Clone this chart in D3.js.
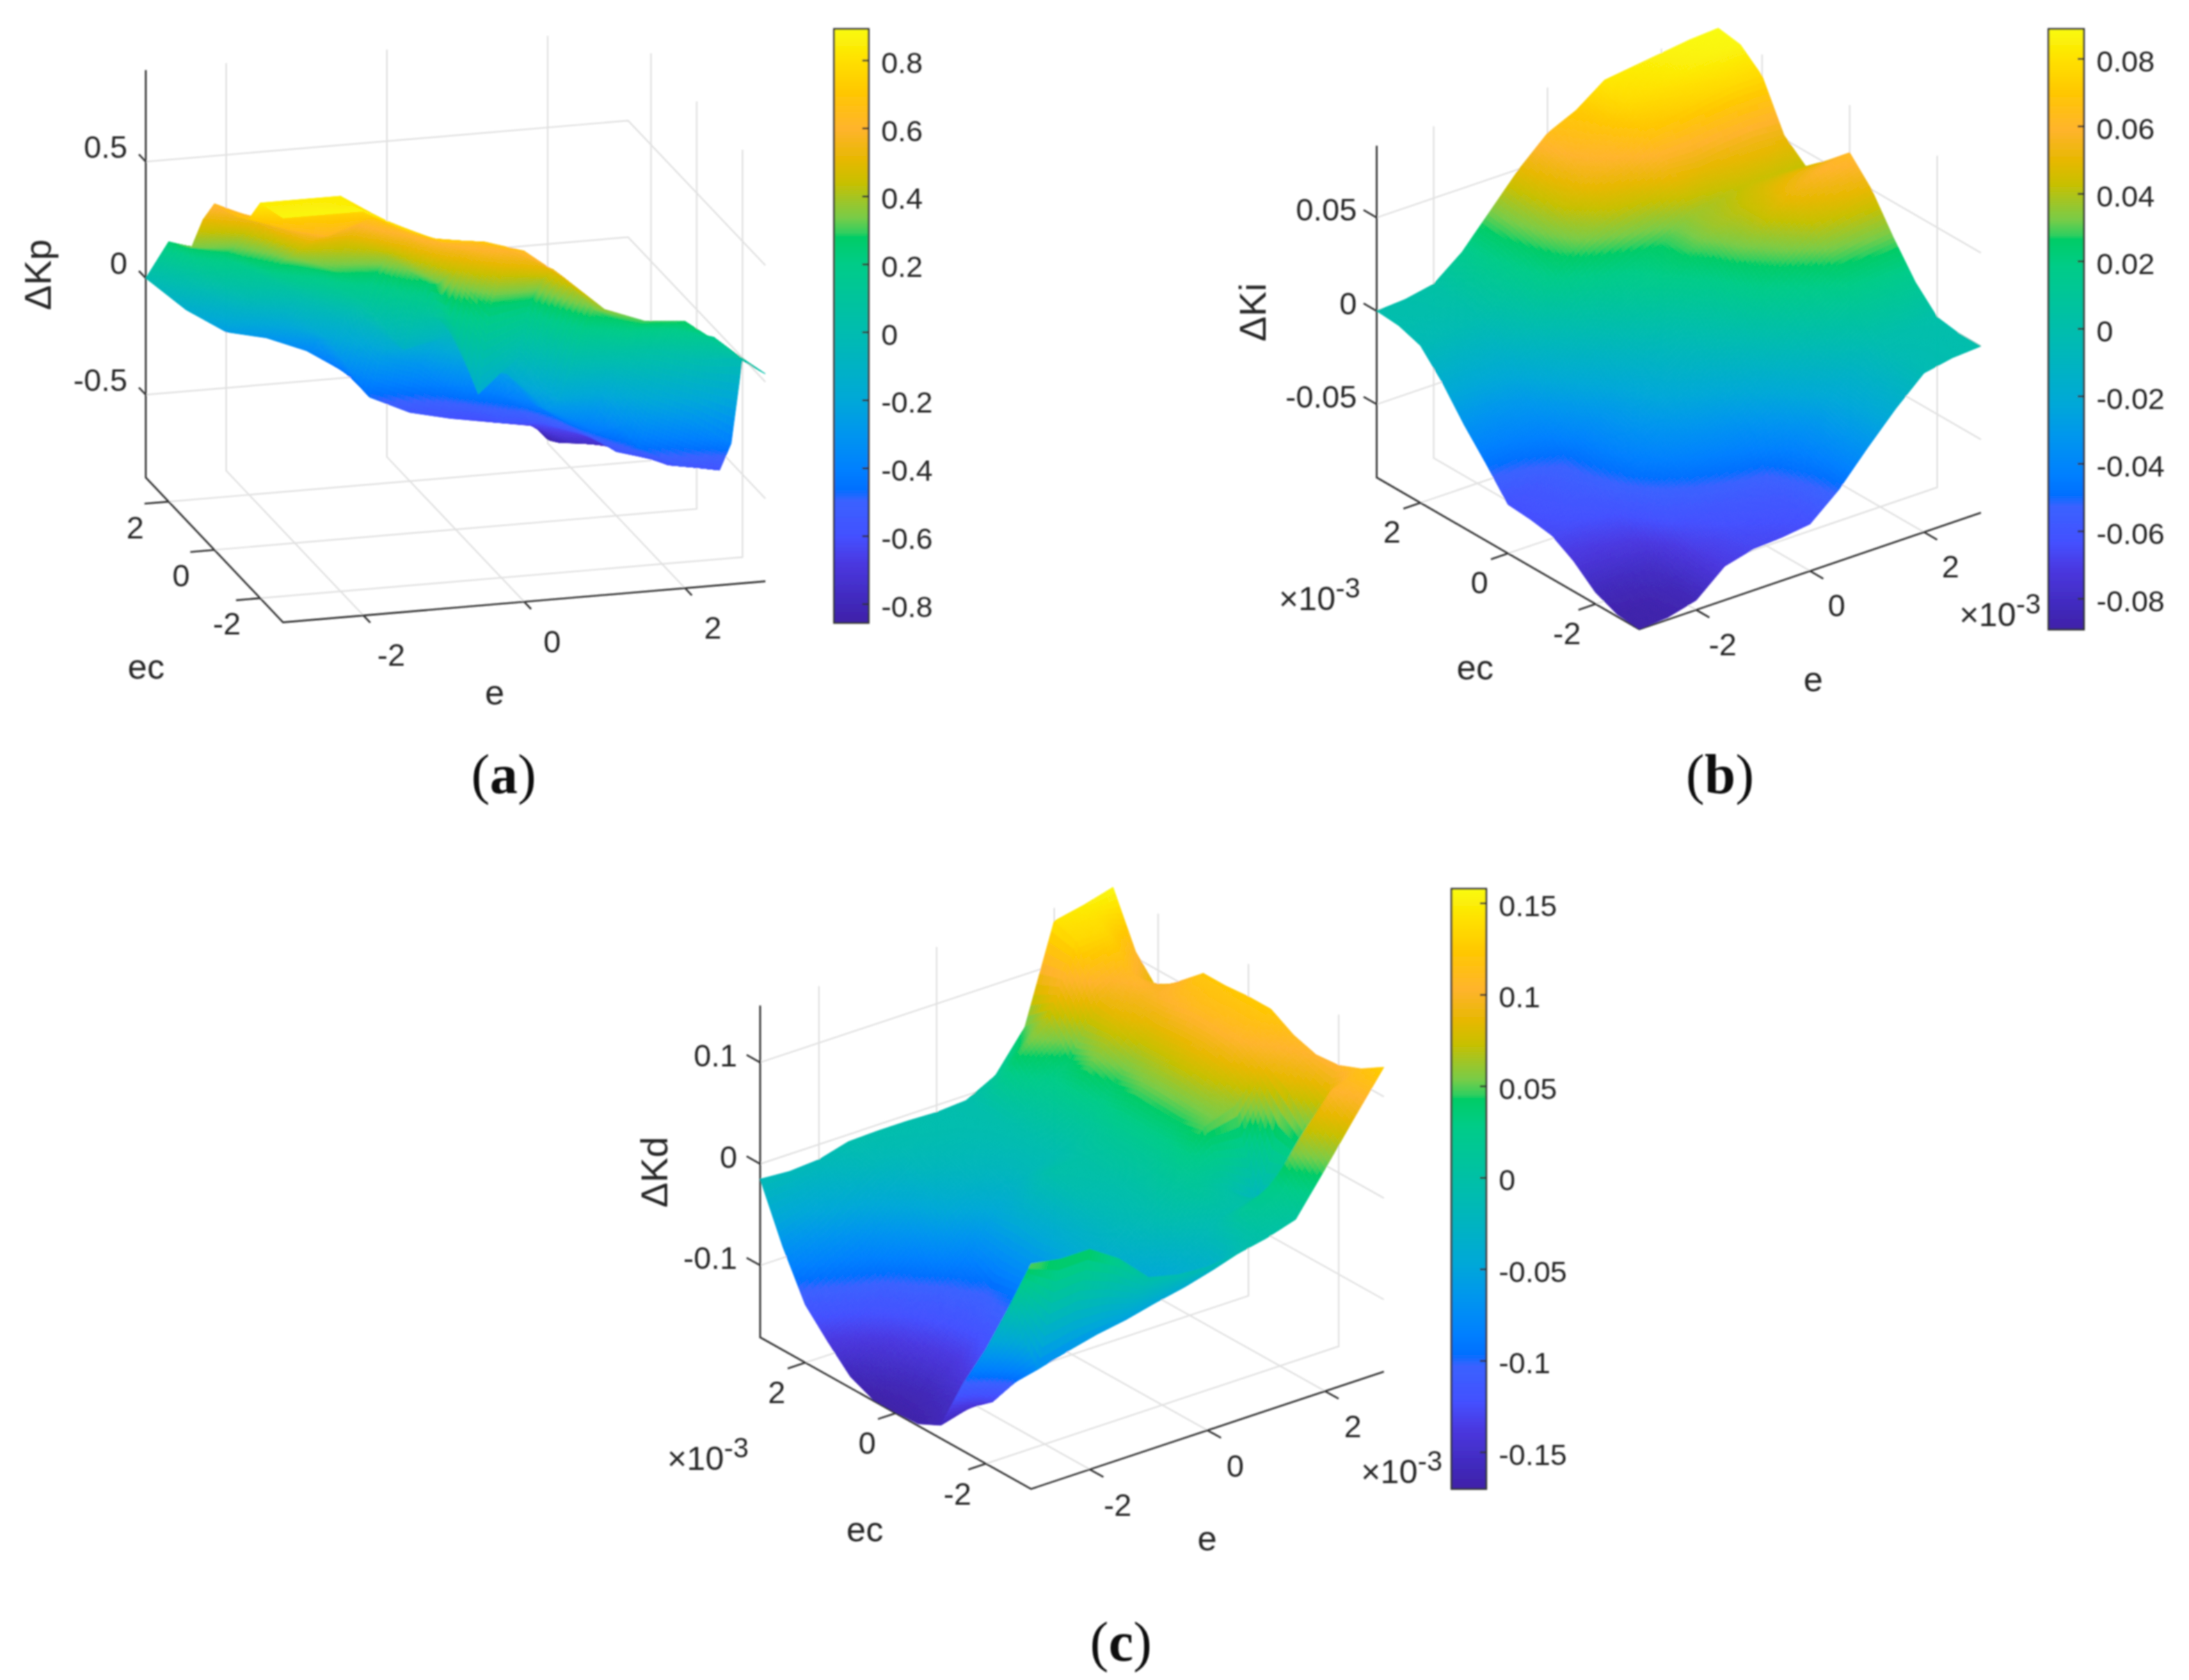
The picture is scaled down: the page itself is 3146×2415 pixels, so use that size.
<!DOCTYPE html>
<html>
<head>
<meta charset="utf-8">
<script src="https://cdnjs.cloudflare.com/ajax/libs/d3/7.8.5/d3.min.js"></script>
<style>
body { margin: 0; background: #fff; }
</style>
</head>
<body>
<script>
var width = 3146;
var height = 2415;

// grid of the three surfaces, rows run along ec, columns along e
var eValues = [-3, -2.5, -2, -1.5, -1, -0.5, 0, 0.5, 1, 1.5, 2, 2.5, 3];
var ecValues = [3, 2.5, 2, 1.5, 1, 0.5, 0, -0.5, -1, -1.5, -2, -2.5, -3];

var kpValues = [
  [0, -.15, -.26, -.30, -.37, -.48, -.55, -.57, -.58, -.65, -.84, -.84, -.80],
  [.13, 0, -.12, -.18, -.27, -.48, -.57, -.60, -.62, -.68, -.80, -.82, -.80],
  [.26, .10, -.01, -.07, -.22, -.48, -.56, -.60, -.63, -.66, -.74, -.78, -.80],
  [.30, .24, .14, .04, -.08, -.25, -.30, -.46, -.58, -.60, -.66, -.74, -.78],
  [.34, .32, .20, .12, .02, -.14, -.16, -.30, -.44, -.56, -.62, -.70, -.75],
  [.51, .44, .30, .23, .10, -.12, -.08, -.16, -.36, -.50, -.60, -.67, -.71],
  [.63, .55, .38, .30, .28, .08, .04, -.10, -.35, -.46, -.58, -.63, -.67],
  [.65, .60, .48, .48, .40, .27, -.10, -.15, -.32, -.40, -.52, -.60, -.63],
  [.68, .63, .56, .60, .48, .32, -.17, -.02, -.225, -.25, -.46, -.55, -.585],
  [.72, .66, .62, .68, .58, .42, .25, .27, -.044, -.08, -.22, -.30, -.42],
  [.84, .84, .84, .73, .64, .56, .44, .41, .158, .089, .064, .007, 0],
  [.86, .86, .85, .76, .68, .652, .594, .504, .317, .228, .206, .155, .01],
  [.88, .88, .88, .787, .719, .704, .65, .519, .37, .305, .29, .164, .035]
];

var kiValues = [
  [0, .001, .004, .016, .033, .050, .064, .071, .082, .084, .086, .088, .089],
  [-.001, 0, .003, .015, .031, .046, .059, .067, .078, .081, .084, .086, .087],
  [-.005, -.004, -.001, .011, .027, .042, .053, .059, .069, .072, .075, .077, .077],
  [-.018, -.018, -.014, .003, .022, .033, .041, .045, .052, .050, .052, .053, .052],
  [-.034, -.034, -.029, -.012, .003, .015, .022, .028, .037, .040, .043, .043, .042],
  [-.048, -.046, -.041, -.026, -.012, .002, .014, .026, .037, .042, .048, .051, .052],
  [-.063, -.059, -.052, -.037, -.023, -.011, 0, .013, .030, .042, .053, .059, .063],
  [-.064, -.061, -.055, -.041, -.029, -.019, -.010, .002, .019, .031, .042, .047, .050],
  [-.066, -.064, -.060, -.047, -.038, -.031, -.024, -.012, .003, .015, .026, .029, .031],
  [-.073, -.072, -.069, -.056, -.049, -.044, -.039, -.028, -.013, 0, .010, .013, .014],
  [-.083, -.082, -.079, -.066, -.061, -.057, -.054, -.042, -.026, -.013, -.001, .001, .002],
  [-.088, -.087, -.083, -.070, -.065, -.063, -.060, -.048, -.031, -.017, -.004, -.001, 0],
  [-.089, -.088, -.084, -.071, -.067, -.066, -.064, -.051, -.034, -.018, -.004, -.001, 0]
];

var kdValues = [
  [-.015, -.017, -.015, -.007, -.006, -.006, -.007, -.005, .010, .048, .143, .149, .157],
  [-.069, -.055, -.035, -.018, -.012, -.009, -.008, -.005, .045, .070, .135, .135, .106],
  [-.114, -.095, -.080, -.050, -.022, -.016, -.012, -.005, .020, .040, .090, .110, .080],
  [-.138, -.125, -.112, -.085, -.042, -.025, -.018, -.006, .015, .052, .085, .100, .102],
  [-.160, -.145, -.125, -.108, -.085, -.045, -.018, -.008, .012, .042, .075, .105, .122],
  [-.170, -.155, -.135, -.115, -.100, -.040, -.002, 0, .015, .048, .075, .110, .122],
  [-.170, -.160, -.140, -.118, -.095, -.045, -.008, 0, .015, .046, .078, .108, .124],
  [-.169, -.155, -.130, -.110, -.085, -.042, -.015, -.003, .015, .045, .072, .105, .124],
  [-.158, -.150, -.112, -.095, -.070, -.040, -.018, -.003, .018, .050, .060, .092, .111],
  [-.104, -.132, -.100, -.078, -.060, -.042, -.028, -.005, .012, 0, -.030, .080, .104],
  [-.058, -.100, -.090, -.080, -.070, -.060, -.045, -.022, -.005, 0, 0, .050, .106],
  [-.005, -.075, -.067, -.060, -.055, -.048, -.042, -.034, .014, .030, .070, .104, .115],
  [.051, .046, .046, .027, -.001, -.008, -.010, -.007, -.001, .008, .048, .089, .129]
];

// tick labels
var eTicks = [-2, 0, 2];
var ecTicks = [2, 0, -2];
var kpTicks = [0.5, 0, -0.5];
var kiTicks = [0.05, 0, -0.05];
var kdTicks = [0.1, 0, -0.1];
var kpBarTicks = [0.8, 0.6, 0.4, 0.2, 0, -0.2, -0.4, -0.6, -0.8];
var kiBarTicks = [0.08, 0.06, 0.04, 0.02, 0, -0.02, -0.04, -0.06, -0.08];
var kdBarTicks = [0.15, 0.1, 0.05, 0, -0.05, -0.1, -0.15];

// colormap (0 bottom, 1 top)
var colorStops = [0, .03, .10, .144, .205, .225, .258, .314, .375, .489, .604, .65, .656, .682, .718, .741, .779, .832, .896, .947, 1];
var colorValues = ["#3f20a8", "#4028b8", "#4a38e0", "#4450ff", "#3a62ff", "#0070ff", "#0080ff", "#0094f0", "#00a8d8",
  "#00bcb0", "#00cc88", "#00cc66", "#2ecf60", "#78cc48", "#a8c420", "#c8c000", "#e6b800", "#ffb42d", "#ffc800", "#ffe000", "#f9fb0e"];

var svg = d3.select("body")
    .append("svg")
    .attr("width", width)
    .attr("height", height)
    .style("display", "block")
    .style("background", "#fff");

var defs = svg.append("defs");
var gradient = defs.append("linearGradient")
    .attr("id", "barFill")
    .attr("x1", 0).attr("y1", 1).attr("x2", 0).attr("y2", 0);
gradient.selectAll("stop")
    .data(colorStops)
    .join("stop")
    .attr("offset", d => d)
    .attr("stop-color", (d, i) => colorValues[i]);

// the source picture is a soft upscale, so take the edge off the flat quads
defs.append("filter")
    .attr("id", "soft")
    .attr("filterUnits", "userSpaceOnUse")
    .attr("x", 0).attr("y", 0).attr("width", width).attr("height", height)
    .append("feGaussianBlur")
    .attr("stdDeviation", 1.2);

var textColor = "#262626";
var fontFamily = "'Liberation Sans', Arial, sans-serif";
var fontSize = 45;

drawPanel({
  values: kpValues, name: "ΔKp", letter: "a", zTicks: kpTicks, barTicks: kpBarTicks,
  left: [209.5, 686.4], front: [406.8, 894.6], right: [1100, 835.6], top: 100.7,
  zDomain: [-.855, .893], barDomain: [-.855, .893],
  bar: [1198.7, 1248.4, 41.6, 895.4],
  zLabel: [-26.5, -21], eLabel: [40, 57], ecLabel: [-48, 37],
  eTitle: [711, 996], ecTitle: [210, 959], zTitle: [54, 395], caption: [724, 1113]
});

drawPanel({
  values: kiValues, name: "ΔKi", letter: "b", zTicks: kiTicks, barTicks: kiBarTicks,
  left: [1978.6, 686.4], front: [2356, 904.7], right: [2847, 737], top: 209.5,
  zDomain: [-.0892, .0885], barDomain: [-.0891, .0889],
  bar: [2944, 2995, 41.6, 905],
  zLabel: [-28.6, -11], eLabel: [38, 50], ecLabel: [-41, 42],
  eTitle: [2606, 977], ecTitle: [2120, 960], zTitle: [1800, 449], caption: [2472, 1113],
  eExp: [2816, 900], ecExp: [1838, 877]
});

drawPanel({
  values: kdValues, name: "ΔKd", letter: "c", zTicks: kdTicks, barTicks: kdBarTicks,
  left: [1092.5, 1922.5], front: [1481.8, 2140.4], right: [1988.9, 1971.7], top: 1445.6,
  zDomain: [-.171, .156], barDomain: [-.17, .158],
  bar: [2086, 2136, 1277.6, 2140.4],
  zLabel: [-33, -10], eLabel: [40, 51], ecLabel: [-41, 43],
  eTitle: [1735, 2212], ecTitle: [1243, 2199], zTitle: [940, 1685], caption: [1611, 2360],
  eExp: [1956, 2132], ecExp: [959, 2113]
});

function drawPanel(p) {
  var g = svg.append("g").attr("filter", "url(#soft)");

  // orthographic view: floor position from e and ec, z lifts straight up
  var xE = d3.scaleLinear().domain([-3, 3]).range([0, p.right[0] - p.front[0]]);
  var yE = d3.scaleLinear().domain([-3, 3]).range([0, p.right[1] - p.front[1]]);
  var xC = d3.scaleLinear().domain([3, -3]).range([p.left[0], p.front[0]]);
  var yC = d3.scaleLinear().domain([3, -3]).range([p.left[1], p.front[1]]);
  var yZ = d3.scaleLinear().domain(p.zDomain).range([0, p.top - p.left[1]]);
  function project(e, ec, z) {
    return [xE(e) + xC(ec), yE(e) + yC(ec) + yZ(z)];
  }
  var zMin = p.zDomain[0];
  var zMax = p.zDomain[1];
  var line = d3.line();
  var closed = d3.line().curve(d3.curveLinearClosed);

  // walls and floor
  var gridLines = [];
  eTicks.forEach(function(t) {
    gridLines.push([project(t, 3, zMax), project(t, 3, zMin), project(t, -3, zMin)]);
  });
  ecTicks.forEach(function(t) {
    gridLines.push([project(3, t, zMax), project(3, t, zMin), project(-3, t, zMin)]);
  });
  p.zTicks.forEach(function(t) {
    gridLines.push([project(-3, 3, t), project(3, 3, t), project(3, -3, t)]);
  });
  g.append("g").selectAll("path")
      .data(gridLines)
      .join("path")
      .attr("d", line)
      .attr("fill", "none")
      .attr("stroke", "#e0e0e0")
      .attr("stroke-width", 2.2);

  // axes and ticks
  var axisLines = [
    [project(-3, 3, zMax), project(-3, 3, zMin), project(-3, -3, zMin), project(3, -3, zMin)]
  ];
  eTicks.forEach(function(t) {
    axisLines.push([project(t, -3, zMin), project(t, -3.3, zMin)]);
  });
  ecTicks.forEach(function(t) {
    axisLines.push([project(-3, t, zMin), project(-3.3, t, zMin)]);
  });
  p.zTicks.forEach(function(t) {
    axisLines.push([project(-3, 3, t), project(-3, 3.3, t)]);
  });
  g.append("g").selectAll("path")
      .data(axisLines)
      .join("path")
      .attr("d", line)
      .attr("fill", "none")
      .attr("stroke", "#333")
      .attr("stroke-width", 2.6);

  // surface: each grid cell split into small flat quads, back to front
  var color = d3.scaleLinear()
      .domain(colorStops.map(d => p.barDomain[0] + d * (p.barDomain[1] - p.barDomain[0])))
      .range(colorValues)
      .clamp(true);
  var sub = 10;
  var quads = [];
  function at(i, j, u, v) {
    var r0 = p.values[j], r1 = p.values[j + 1];
    return (1 - v) * ((1 - u) * r0[i] + u * r0[i + 1]) + v * ((1 - u) * r1[i] + u * r1[i + 1]);
  }
  function corner(i, j, u, v) {
    var e = eValues[i] + u * (eValues[i + 1] - eValues[i]);
    var ec = ecValues[j] + v * (ecValues[j + 1] - ecValues[j]);
    return project(e, ec, at(i, j, u, v));
  }
  for (var i = eValues.length - 2; i >= 0; i--) {
    for (var a = sub - 1; a >= 0; a--) {
      for (var j = 0; j < ecValues.length - 1; j++) {
        for (var b = 0; b < sub; b++) {
          var u0 = a / sub, u1 = (a + 1) / sub, v0 = b / sub, v1 = (b + 1) / sub;
          quads.push({
            pts: [corner(i, j, u0, v0), corner(i, j, u1, v0), corner(i, j, u1, v1), corner(i, j, u0, v1)],
            z: at(i, j, (u0 + u1) / 2, (v0 + v1) / 2)
          });
        }
      }
    }
  }
  g.append("g").selectAll("path")
      .data(quads)
      .join("path")
      .attr("d", d => closed(d.pts))
      .attr("fill", d => color(d.z))
      .attr("stroke", d => color(d.z))
      .attr("stroke-width", 1)
      .attr("stroke-linejoin", "round");

  // tick labels on the axes
  function addText(x, y, str, anchor, size) {
    return g.append("text")
        .attr("x", x)
        .attr("y", y)
        .attr("text-anchor", anchor || "middle")
        .attr("dominant-baseline", "central")
        .attr("fill", textColor)
        .attr("font-family", fontFamily)
        .attr("font-size", size || fontSize)
        .text(str);
  }
  p.zTicks.forEach(function(t) {
    var q = project(-3, 3, t);
    addText(q[0] + p.zLabel[0], q[1] + p.zLabel[1], String(t), "end");
  });
  eTicks.forEach(function(t) {
    var q = project(t, -3, zMin);
    addText(q[0] + p.eLabel[0], q[1] + p.eLabel[1], String(t));
  });
  ecTicks.forEach(function(t) {
    var q = project(-3, t, zMin);
    addText(q[0] + p.ecLabel[0], q[1] + p.ecLabel[1], String(t));
  });

  addText(p.eTitle[0], p.eTitle[1], "e", "middle", 50);
  addText(p.ecTitle[0], p.ecTitle[1], "ec", "middle", 50);
  addText(p.zTitle[0], p.zTitle[1], p.name, "middle", 54)
      .attr("transform", `rotate(-90, ${p.zTitle[0]}, ${p.zTitle[1]})`);

  [p.eExp, p.ecExp].forEach(function(pos) {
    if (!pos) return;
    var exp = g.append("text")
        .attr("x", pos[0])
        .attr("y", pos[1])
        .attr("fill", textColor)
        .attr("font-family", fontFamily)
        .attr("font-size", 48);
    exp.append("tspan").text("×");
    exp.append("tspan").text("10");
    exp.append("tspan").attr("dy", -18).attr("font-size", 40).text("-3");
  });

  // caption
  var cap = g.append("text")
      .attr("x", p.caption[0])
      .attr("y", p.caption[1])
      .attr("text-anchor", "middle")
      .attr("dominant-baseline", "central")
      .attr("fill", "#111")
      .attr("font-family", "'Liberation Serif', serif")
      .attr("font-size", 80);
  cap.append("tspan").text("(");
  cap.append("tspan").attr("font-weight", "bold").text(p.letter);
  cap.append("tspan").text(")");

  // colorbar
  var bar = p.bar;
  var barY = d3.scaleLinear().domain(p.barDomain).range([bar[3], bar[2]]);
  g.append("rect")
      .attr("x", bar[0])
      .attr("y", bar[2])
      .attr("width", bar[1] - bar[0])
      .attr("height", bar[3] - bar[2])
      .attr("fill", "url(#barFill)")
      .attr("stroke", "#333")
      .attr("stroke-width", 2.6);
  g.append("g").selectAll("line")
      .data(p.barTicks)
      .join("line")
      .attr("x1", bar[1] - 9)
      .attr("x2", bar[1])
      .attr("y1", d => barY(d))
      .attr("y2", d => barY(d))
      .attr("stroke", "#333")
      .attr("stroke-width", 2.6);
  p.barTicks.forEach(function(t) {
    addText(bar[1] + 18, barY(t) + 3, String(t), "start", 43);
  });
}
</script>
</body>
</html>
